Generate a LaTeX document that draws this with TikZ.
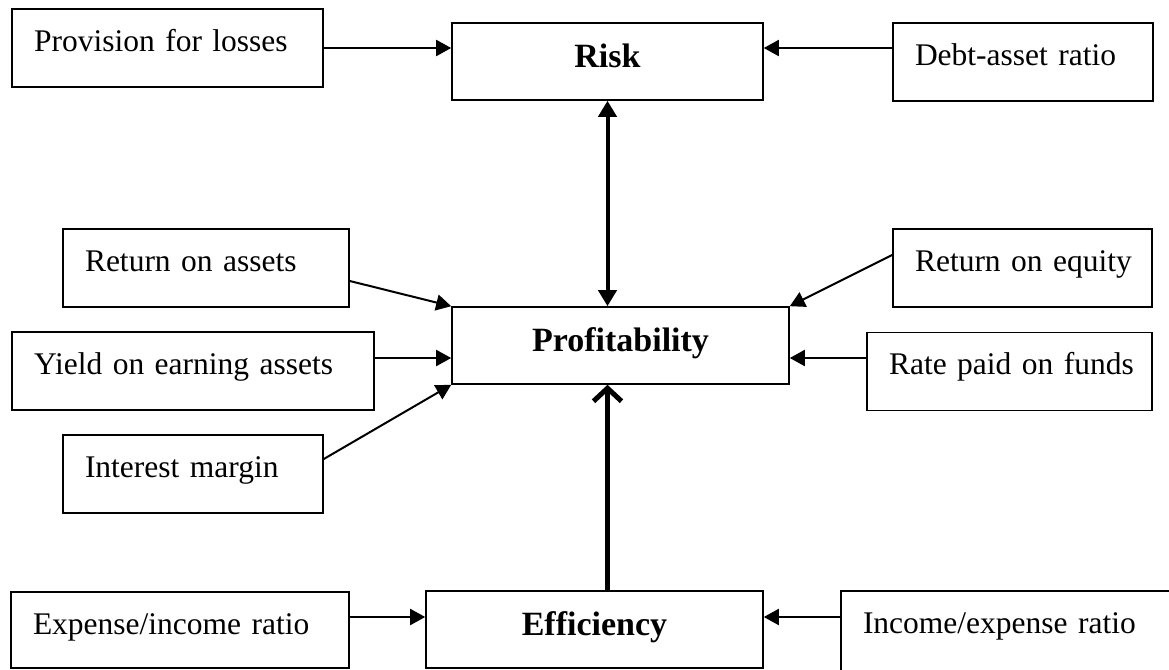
\documentclass[tikz,border=0pt]{standalone}
\usepackage{fontspec}
\setmainfont{Liberation Serif}
\usetikzlibrary{arrows.meta}

\begin{document}
\begin{tikzpicture}[x=0.5pt, y=-0.5pt,
    fact/.style={draw, rectangle, line width=0.8pt, inner xsep=0pt, inner ysep=0pt, align=left, text height=21pt, text depth=18pt, font=\fontsize{15.75}{18}\selectfont, execute at begin node={\hspace*{11pt}}},
    hub/.style={draw, rectangle, line width=0.8pt, inner sep=0pt, minimum width=#1, text height=22pt, text depth=16.5pt, font=\fontsize{17}{20}\selectfont\bfseries},
    feed/.style={line width=1pt, -{Triangle[length=7.5pt, width=8pt]}},
    spine/.style={line width=2pt, {Triangle[length=8pt, width=9pt]}-{Triangle[length=8pt, width=9pt]}},
    lift/.style={line width=2.5pt, -{Straight Barb[length=6.5pt, width=14pt]}}]
    \useasboundingbox (0,0) rectangle (1169,670);
    \clip (0,0) rectangle (1169,670);

    % Nodes
    \node [fact, text width=155.5pt] (prov) at (167.5,48) {Provision for losses};
    \node [hub=155.5pt] (risk) at (607.5,61.5) {Risk};
    \node [fact, text width=130pt] (debt) at (1023,62) {Debt-asset ratio};
    \node [fact, text width=143pt] (roa) at (206,268) {Return on assets};
    \node [fact, text width=129.5pt] (roe) at (1022.5,268) {Return on equity};
    \node [hub=168.5pt] (prof) at (620.5,345.5) {Profitability};
    \node [fact, text width=181pt] (yield) at (193,371) {Yield on earning assets};
    \node [fact, text width=142.5pt] (rate) at (1009.5,371.5) {Rate paid on funds};
    \node [fact, text width=130pt] (margin) at (193,474) {Interest margin};
    \node [fact, text width=169pt, text depth=17pt] (expense) at (180,630) {Expense/income ratio};
    \node [hub=168.5pt] (eff) at (594.5,629.5) {Efficiency};
    \node [fact, text width=172pt, text depth=28.5pt] (income) at (1013,640.5) {Income/expense ratio};

    % Arrows
    \coordinate (ybar) at ([yshift=6.5pt]yield.east);
    \coordinate (ebar) at ([yshift=6.5pt]expense.east);
    \draw [feed] (prov.east) -- (prov.east -| risk.west);
    \draw [feed] (prov.east -| debt.west) -- (prov.east -| risk.east);
    \draw [feed] ([yshift=-6.5pt]roa.east) -- (prof.north west);
    \draw [feed] (ybar) -- (ybar -| prof.west);
    \draw [feed] ([yshift=7.5pt]margin.east) -- (prof.south west);
    \draw [feed] ([yshift=6.5pt]roe.west) -- (prof.north east);
    \draw [feed] (ybar -| rate.west) -- (ybar -| prof.east);
    \draw [feed] (ebar) -- (ebar -| eff.west);
    \draw [feed] (ebar -| income.west) -- (ebar -| eff.east);
    \draw [spine] (risk.south) -- (risk.south |- prof.north);
    \draw [lift] (risk.south |- eff.north) -- (risk.south |- prof.south);
\end{tikzpicture}
\end{document}
